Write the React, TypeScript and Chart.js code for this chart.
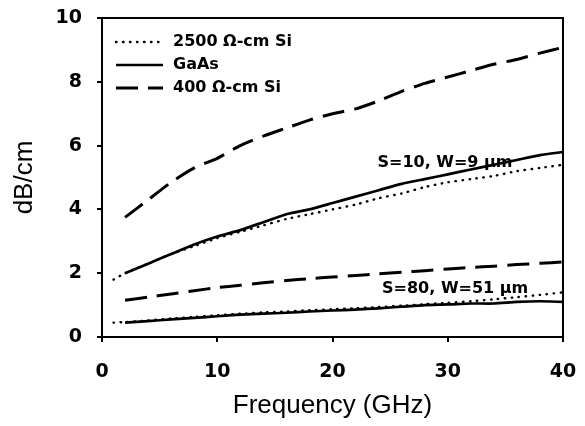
import React, { useEffect, useRef } from "react";
import { Chart, registerables } from "chart.js";

Chart.register(...registerables);

// Frequencies (GHz)
const freqDotted = [1, 2, 4, 6, 8, 10, 12, 14, 16, 18, 20, 22, 24, 26, 28, 30, 32, 34, 36, 38, 40];
const freq = [2, 4, 6, 8, 10, 12, 14, 16, 18, 20, 22, 24, 26, 28, 30, 32, 34, 36, 38, 40];

// S=10, W=9 µm
const si2500_s10 = [1.8, 2.0, 2.3, 2.6, 2.85, 3.1, 3.3, 3.5, 3.7, 3.85, 4.0, 4.15, 4.35, 4.5, 4.7, 4.85, 4.95, 5.05, 5.2, 5.3, 5.4];
const gaas_s10 = [2.0, 2.3, 2.6, 2.9, 3.15, 3.35, 3.6, 3.85, 4.0, 4.2, 4.4, 4.6, 4.8, 4.95, 5.1, 5.25, 5.4, 5.55, 5.7, 5.8];
const si400_s10 = [3.75, 4.3, 4.85, 5.3, 5.6, 6.0, 6.3, 6.55, 6.8, 7.0, 7.15, 7.4, 7.7, 7.95, 8.15, 8.35, 8.55, 8.7, 8.9, 9.08];

// S=80, W=51 µm
const si2500_s80 = [0.45, 0.47, 0.52, 0.58, 0.63, 0.68, 0.73, 0.77, 0.8, 0.84, 0.87, 0.9, 0.94, 0.98, 1.03, 1.07, 1.12, 1.18, 1.25, 1.32, 1.4];
const gaas_s80 = [0.45, 0.5, 0.55, 0.6, 0.65, 0.7, 0.73, 0.76, 0.8, 0.83, 0.86, 0.9, 0.95, 1.0, 1.02, 1.05, 1.05, 1.1, 1.12, 1.1];
const si400_s80 = [1.15, 1.25, 1.35, 1.45, 1.55, 1.62, 1.7, 1.77, 1.83, 1.88, 1.93, 1.98, 2.03, 2.08, 2.13, 2.18, 2.22, 2.27, 2.31, 2.35];

const legendLabels = ["2500 \u03A9-cm Si", "GaAs", "400 \u03A9-cm Si"];
const annotations = [
  { text: "S=10, W=9 \u00B5m", x: 23.9, y: 5.45 },
  { text: "S=80, W=51 \u00B5m", x: 24.3, y: 1.5 },
];

const xTitle = "Frequency (GHz)";
const yTitle = "dB/cm";

const DOT = [0.5, 6.5];
const DASH = [22, 10];

const styleDotted = { borderColor: "#000", borderWidth: 2.4, borderDash: DOT, borderCapStyle: "round" as const };
const styleSolid = { borderColor: "#000", borderWidth: 2.7, borderDash: [] as number[], borderCapStyle: "butt" as const };
const styleDashed = { borderColor: "#000", borderWidth: 3, borderDash: DASH, borderCapStyle: "butt" as const };

const legendStyles = [styleDotted, styleSolid, styleDashed];

const pts = (xs: number[], ys: number[]) => xs.map((x, i) => ({ x, y: ys[i] }));

const overlayPlugin = {
  id: "overlay",
  afterDraw(chart: any) {
    const { ctx, chartArea, scales } = chart;
    ctx.save();
    ctx.strokeStyle = "#000";
    ctx.lineWidth = 2;
    ctx.setLineDash([]);
    ctx.strokeRect(chartArea.left, chartArea.top, chartArea.right - chartArea.left, chartArea.bottom - chartArea.top);

    const rows = [42, 65, 88];
    ctx.font = "bold 16px 'DejaVu Sans'";
    ctx.textBaseline = "middle";
    ctx.fillStyle = "#000";
    legendLabels.forEach((lab, i) => {
      const st = legendStyles[i];
      ctx.beginPath();
      ctx.lineWidth = st.borderWidth;
      ctx.setLineDash(st.borderDash);
      ctx.lineCap = st.borderCapStyle;
      ctx.moveTo(116, rows[i]);
      ctx.lineTo(163, rows[i]);
      ctx.stroke();
      ctx.setLineDash([]);
      ctx.lineCap = "butt";
      ctx.fillText(lab, 173, rows[i]);
    });

    ctx.font = "bold 16px 'DejaVu Sans'";
    ctx.textAlign = "left";
    annotations.forEach((a) => {
      ctx.fillText(a.text, scales.x.getPixelForValue(a.x), scales.y.getPixelForValue(a.y));
    });
    ctx.restore();
  },
};

const zeroPad = (s: any) => {
  s.paddingTop = 0;
  s.paddingBottom = 0;
  s.paddingLeft = 0;
  s.paddingRight = 0;
};

export default function App() {
  const ref = useRef<HTMLCanvasElement>(null);
  useEffect(() => {
    if (!ref.current) return;
    const chart = new Chart(ref.current, {
      type: "line",
      data: {
        datasets: [
          { label: legendLabels[0], data: pts(freqDotted, si2500_s10), ...styleDotted },
          { label: legendLabels[1], data: pts(freq, gaas_s10), ...styleSolid },
          { label: legendLabels[2], data: pts(freq, si400_s10), ...styleDashed },
          { label: legendLabels[0] + " S80", data: pts(freqDotted, si2500_s80), ...styleDotted },
          { label: legendLabels[1] + " S80", data: pts(freq, gaas_s80), ...styleSolid },
          { label: legendLabels[2] + " S80", data: pts(freq, si400_s80), ...styleDashed },
        ].map((d) => ({ ...d, pointRadius: 0, tension: 0.2, fill: false })) as any,
      },
      options: {
        animation: false,
        responsive: false,
        maintainAspectRatio: false,
        layout: { padding: { left: 0, right: 22, top: 18, bottom: 0 } },
        plugins: { legend: { display: false }, tooltip: { enabled: false } },
        scales: {
          x: {
            type: "linear",
            min: 0,
            max: 40,
            afterFit: (s: any) => { s.height = 89; zeroPad(s); },
            ticks: { stepSize: 10, color: "#000", padding: 19, font: { family: "'DejaVu Sans'", weight: "bold", size: 19 } },
            grid: { display: true, drawOnChartArea: false, drawTicks: true, tickLength: 5, color: "#000", lineWidth: 2 },
            border: { display: true, color: "#000", width: 2 },
            title: { display: true, text: xTitle, color: "#000", padding: { top: 4, bottom: 5 }, font: { family: "'Liberation Sans'", size: 26 } },
          },
          y: {
            type: "linear",
            min: 0,
            max: 10,
            afterFit: (s: any) => { s.width = 102; zeroPad(s); },
            ticks: { stepSize: 2, color: "#000", padding: 15, font: { family: "'DejaVu Sans'", weight: "bold", size: 19 } },
            grid: { display: true, drawOnChartArea: false, drawTicks: true, tickLength: 5, color: "#000", lineWidth: 2 },
            border: { display: true, color: "#000", width: 2 },
            title: { display: true, text: yTitle, color: "#000", padding: { top: 9, bottom: 9 }, font: { family: "'Liberation Sans'", size: 26 } },
          },
        },
      },
      plugins: [overlayPlugin],
    });
    return () => chart.destroy();
  }, []);
  return (
    <div style={{ position: "fixed", left: 0, top: 0, width: 585, height: 426, background: "#fff" }}>
      <canvas ref={ref} width={585} height={426} style={{ width: 585, height: 426 }} />
    </div>
  );
}
